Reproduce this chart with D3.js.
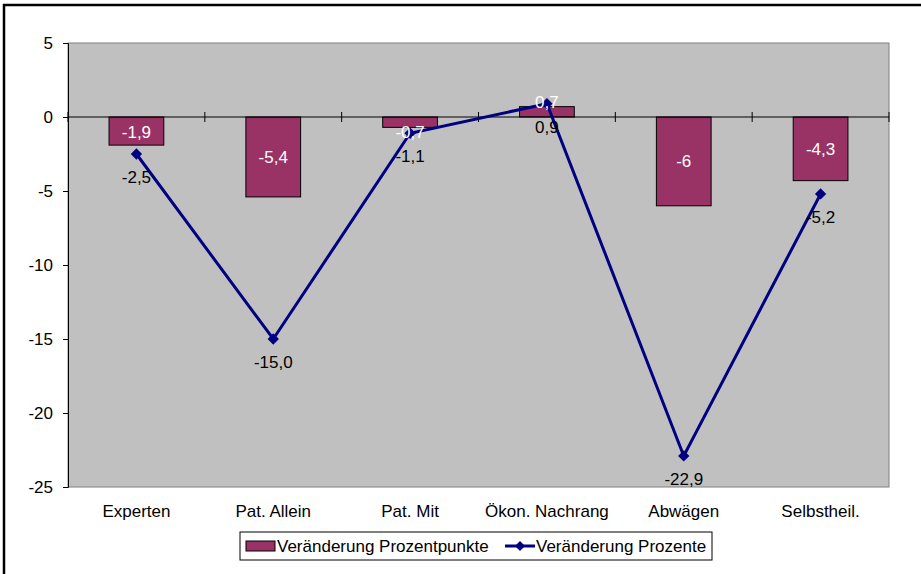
<!DOCTYPE html>
<html>
<head>
<meta charset="utf-8">
<script src="https://cdn.jsdelivr.net/npm/d3@7"></script>
<style>
  body { margin: 0; background: #fff; }
  text { font-family: "Liberation Sans", Arial, sans-serif; }
</style>
</head>
<body>
<div id="chart"></div>
<script>
const width = 921;
const height = 574;

// Daten
const categories = ["Experten", "Pat. Allein", "Pat. Mit", "Ökon. Nachrang", "Abwägen", "Selbstheil."];
const punkte = [-1.9, -5.4, -0.7, 0.7, -6, -4.3];      // Veränderung Prozentpunkte
const prozente = [-2.5, -15.0, -1.1, 0.9, -22.9, -5.2]; // Veränderung Prozente
const yTicks = [5, 0, -5, -10, -15, -20, -25];

const fmt = v => String(v).replace(".", ",");
const fmt1 = v => v.toFixed(1).replace(".", ",");

const fs = 17;
const plot = { left: 68, top: 43, right: 889, bottom: 487 };

const svg = d3.select("#chart")
  .append("svg")
  .attr("width", width)
  .attr("height", height);

// Rahmen (nur oben und links sichtbar)
svg.append("rect")
  .attr("x", 4).attr("y", 5)
  .attr("width", 1000).attr("height", 1000)
  .attr("fill", "#fff")
  .attr("stroke", "#000")
  .attr("stroke-width", 2.5);

const x = d3.scaleBand()
  .domain(categories)
  .range([plot.left, plot.right]);

const y = d3.scaleLinear()
  .domain([-25, 5])
  .range([plot.bottom, plot.top]);

// Plotfläche
svg.append("rect")
  .attr("x", plot.left).attr("y", plot.top)
  .attr("width", plot.right - plot.left)
  .attr("height", plot.bottom - plot.top)
  .attr("fill", "#c0c0c0")
  .attr("stroke", "#808080")
  .attr("stroke-width", 1);

// y-Achse
const yAxis = svg.append("g")
  .attr("transform", `translate(${plot.left},0)`)
  .call(d3.axisLeft(y).tickValues(yTicks).tickSize(5).tickPadding(10).tickFormat(d => d));
yAxis.select(".domain").attr("stroke", "#000");
yAxis.selectAll(".tick line").attr("stroke", "#000");
yAxis.selectAll("text")
  .attr("font-size", fs)
  .attr("fill", "#000")
  .style("font-family", "'Liberation Sans', Arial, sans-serif");

// Balken
const bw = x.bandwidth() * 0.4;
svg.selectAll(".bar")
  .data(punkte)
  .enter()
  .append("rect")
  .attr("class", "bar")
  .attr("x", (d, i) => x(categories[i]) + (x.bandwidth() - bw) / 2)
  .attr("y", d => y(Math.max(0, d)))
  .attr("width", bw)
  .attr("height", d => Math.abs(y(d) - y(0)))
  .attr("fill", "#993366")
  .attr("stroke", "#000")
  .attr("stroke-width", 1);

// Nulllinie mit Kategorie-Ticks
svg.append("line")
  .attr("x1", plot.left).attr("x2", plot.right)
  .attr("y1", y(0)).attr("y2", y(0))
  .attr("stroke", "#000")
  .attr("stroke-width", 1);

svg.selectAll(".ctick")
  .data(d3.range(categories.length + 1))
  .enter()
  .append("line")
  .attr("x1", i => plot.left + i * x.step())
  .attr("x2", i => plot.left + i * x.step())
  .attr("y1", y(0) - 5)
  .attr("y2", y(0) + 5)
  .attr("stroke", "#000");

// Kategorie-Beschriftung
svg.selectAll(".clabel")
  .data(categories)
  .enter()
  .append("text")
  .attr("x", d => x(d) + x.bandwidth() / 2)
  .attr("y", plot.bottom + 30)
  .attr("text-anchor", "middle")
  .attr("font-size", fs)
  .text(d => d);

// Linie
const line = d3.line()
  .x((d, i) => x(categories[i]) + x.bandwidth() / 2)
  .y(d => y(d));

svg.append("path")
  .datum(prozente)
  .attr("fill", "none")
  .attr("stroke", "#000080")
  .attr("stroke-width", 3)
  .attr("d", line);

svg.selectAll(".pt")
  .data(prozente)
  .enter()
  .append("path")
  .attr("transform", (d, i) => `translate(${x(categories[i]) + x.bandwidth() / 2},${y(d)}) rotate(45)`)
  .attr("d", d3.symbol().type(d3.symbolSquare).size(64))
  .attr("fill", "#000080");

// Balken-Beschriftung
svg.selectAll(".blabel")
  .data(punkte)
  .enter()
  .append("text")
  .attr("x", (d, i) => x(categories[i]) + x.bandwidth() / 2)
  .attr("y", d => {
    const len = Math.abs(y(d) - y(0));
    const off = Math.max(len / 2, 15);
    return (d < 0 ? y(0) + off : y(0) - off) + 6;
  })
  .attr("text-anchor", "middle")
  .attr("font-size", fs)
  .attr("fill", "#fff")
  .text(d => fmt(d));

// Linien-Beschriftung
svg.selectAll(".llabel")
  .data(prozente)
  .enter()
  .append("text")
  .attr("x", (d, i) => x(categories[i]) + x.bandwidth() / 2)
  .attr("y", d => y(d) + 29)
  .attr("text-anchor", "middle")
  .attr("font-size", fs)
  .attr("fill", "#000")
  .text(d => fmt1(d));

// Legende
const lg = svg.append("g").attr("transform", "translate(240,532)");
lg.append("rect")
  .attr("width", 472).attr("height", 28)
  .attr("fill", "#fff")
  .attr("stroke", "#000")
  .attr("stroke-width", 1);
lg.append("rect")
  .attr("x", 6).attr("y", 9)
  .attr("width", 29).attr("height", 10)
  .attr("fill", "#993366")
  .attr("stroke", "#000");
lg.append("text")
  .attr("x", 37).attr("y", 20)
  .attr("font-size", fs)
  .text("Veränderung Prozentpunkte");
lg.append("line")
  .attr("x1", 265).attr("x2", 295)
  .attr("y1", 14).attr("y2", 14)
  .attr("stroke", "#000080")
  .attr("stroke-width", 3);
lg.append("path")
  .attr("transform", "translate(280,14) rotate(45)")
  .attr("d", d3.symbol().type(d3.symbolSquare).size(50))
  .attr("fill", "#000080");
lg.append("text")
  .attr("x", 296).attr("y", 20)
  .attr("font-size", fs)
  .text("Veränderung Prozente");
</script>
</body>
</html>
